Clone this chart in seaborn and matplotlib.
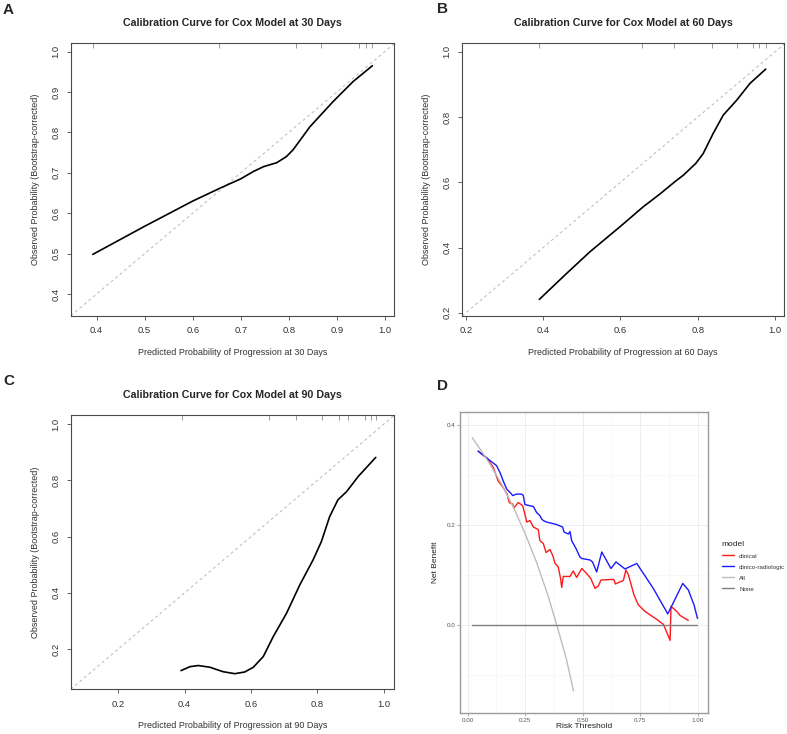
import numpy as np
import pandas as pd
import matplotlib
matplotlib.use("Agg")
import matplotlib.pyplot as plt
import seaborn as sns

# ---- calibration curves ----
cal30_x = [0.392, 0.499, 0.600, 0.657, 0.700, 0.726, 0.747, 0.775, 0.795, 0.809, 0.844, 0.892, 0.934, 0.974]
cal30_y = [0.498, 0.567, 0.630, 0.662, 0.685, 0.703, 0.715, 0.725, 0.740, 0.757, 0.814, 0.876, 0.926, 0.965]
rug30 = [0.392, 0.655, 0.815, 0.866, 0.946, 0.960, 0.974]

cal60_x = [0.390, 0.461, 0.521, 0.599, 0.659, 0.702, 0.741, 0.763, 0.795, 0.814, 0.840, 0.866, 0.901, 0.935, 0.976]
cal60_y = [0.241, 0.321, 0.387, 0.464, 0.525, 0.564, 0.602, 0.622, 0.658, 0.688, 0.750, 0.806, 0.852, 0.903, 0.947]
rug60 = [0.390, 0.655, 0.738, 0.838, 0.901, 0.942, 0.959, 0.976]

cal90_x = [0.389, 0.416, 0.441, 0.476, 0.516, 0.551, 0.581, 0.607, 0.637, 0.667, 0.707, 0.747, 0.787,
           0.812, 0.837, 0.862, 0.888, 0.923, 0.976]
cal90_y = [0.123, 0.137, 0.141, 0.135, 0.119, 0.112, 0.118, 0.135, 0.173, 0.244, 0.327, 0.428, 0.517,
           0.582, 0.671, 0.731, 0.760, 0.814, 0.882]
rug90 = [0.391, 0.655, 0.737, 0.814, 0.866, 0.893, 0.945, 0.961, 0.976]

# ---- decision curve ----
clin_t = [0.046, 0.083, 0.112, 0.133, 0.155, 0.172, 0.181, 0.196, 0.201, 0.220, 0.239, 0.249, 0.257, 0.271,
          0.286, 0.307, 0.314, 0.329, 0.341, 0.358, 0.370, 0.380, 0.394, 0.404, 0.409, 0.416, 0.445, 0.459,
          0.474, 0.496, 0.517, 0.535, 0.554, 0.568, 0.580, 0.636, 0.642, 0.677, 0.688, 0.699, 0.723, 0.742,
          0.771, 0.822, 0.851, 0.880, 0.884, 0.909, 0.923, 0.959]
clin_nb = [0.348, 0.335, 0.315, 0.288, 0.275, 0.262, 0.245, 0.242, 0.234, 0.245, 0.239, 0.222, 0.206, 0.209,
           0.196, 0.191, 0.169, 0.163, 0.145, 0.151, 0.139, 0.123, 0.116, 0.093, 0.075, 0.097, 0.097, 0.108,
           0.095, 0.113, 0.103, 0.093, 0.073, 0.078, 0.090, 0.091, 0.082, 0.089, 0.110, 0.100, 0.060, 0.040,
           0.027, 0.011, 0.001, -0.031, 0.037, 0.027, 0.019, 0.009]
crad_t = [0.046, 0.075, 0.126, 0.141, 0.155, 0.170, 0.187, 0.196, 0.213, 0.235, 0.242, 0.249, 0.286, 0.300,
          0.314, 0.322, 0.329, 0.343, 0.387, 0.413, 0.419, 0.438, 0.445, 0.452, 0.471, 0.488, 0.496, 0.532,
          0.543, 0.561, 0.583, 0.623, 0.645, 0.684, 0.735, 0.764, 0.807, 0.870, 0.935, 0.959, 0.984, 0.999]
crad_nb = [0.348, 0.337, 0.319, 0.305, 0.288, 0.272, 0.264, 0.259, 0.262, 0.262, 0.259, 0.241, 0.237, 0.225,
           0.219, 0.212, 0.209, 0.206, 0.201, 0.196, 0.186, 0.182, 0.187, 0.169, 0.153, 0.136, 0.133, 0.130,
           0.126, 0.106, 0.146, 0.113, 0.126, 0.112, 0.123, 0.103, 0.073, 0.022, 0.083, 0.070, 0.040, 0.013]
all_t = [0.02, 0.05, 0.10, 0.15, 0.20, 0.25, 0.30, 0.35, 0.40, 0.43, 0.46]
all_nb = [0.375, 0.355, 0.320, 0.280, 0.235, 0.183, 0.125, 0.058, -0.020, -0.070, -0.132]
none_t = [0.017, 0.996]
none_nb = [0.0, 0.0]

sns.set_theme(style="white")
plt.rcParams["font.family"] = ["Liberation Sans", "DejaVu Sans"]

W, H = 787, 734
fig = plt.figure(figsize=(W / 100, H / 100), dpi=100)


def box(l, t, r, b):
    return [l / W, 1 - b / H, (r - l) / W, (b - t) / H]


def calib(rect, x, y, rug, xlim, ylim, xticks, yticks, days):
    ax = fig.add_axes(rect)
    ax.axline((0, 0), (1, 1), color="#b8b8b8", lw=0.7, ls=(0, (3, 3)))
    sns.lineplot(x=x, y=y, ax=ax, color="black", lw=1.2, estimator=None, sort=False)
    ax.vlines(rug, 0.98, 1.0, transform=ax.get_xaxis_transform(), color="#999999", lw=0.7)
    ax.set_xlim(xlim)
    ax.set_ylim(ylim)
    ax.set_xticks(xticks)
    ax.set_yticks(yticks)
    ax.set_xticklabels([f"{v:.1f}" for v in xticks])
    ax.set_yticklabels([f"{v:.1f}" for v in yticks])
    for s in ax.spines.values():
        s.set_color("#4a4a4a")
        s.set_linewidth(0.8)
    ax.tick_params(axis="both", direction="out", length=3, width=0.6, color="#4a4a4a",
                   labelsize=6.8, labelcolor="#333333", pad=4.5, bottom=True, left=True)
    ax.tick_params(axis="y", labelrotation=90)
    for lab in ax.get_yticklabels():
        lab.set_va("center")
    ax.set_title(f"Calibration Curve for Cox Model at {days} Days", fontsize=7.7,
                 fontweight="bold", pad=12)
    ax.set_xlabel(f"Predicted Probability of Progression at {days} Days", fontsize=6.5,
                  color="#333333", labelpad=9)
    ax.set_ylabel("Observed Probability (Bootstrap-corrected)", fontsize=6.5,
                  color="#333333", labelpad=8)
    ax.grid(False)
    return ax


calib(box(70.7, 42.7, 394, 316), cal30_x, cal30_y, rug30, (0.346, 1.019), (0.3455, 1.022),
      [0.4, 0.5, 0.6, 0.7, 0.8, 0.9, 1.0], [0.4, 0.5, 0.6, 0.7, 0.8, 0.9, 1.0], 30)
calib(box(461.7, 42.7, 784.3, 316), cal60_x, cal60_y, rug60, (0.189, 1.024), (0.19, 1.028),
      [0.2, 0.4, 0.6, 0.8, 1.0], [0.2, 0.4, 0.6, 0.8, 1.0], 60)
calib(box(70.7, 415, 394, 689.3), cal90_x, cal90_y, rug90, (0.0565, 1.031), (0.0564, 1.033),
      [0.2, 0.4, 0.6, 0.8, 1.0], [0.2, 0.4, 0.6, 0.8, 1.0], 90)

# ---- panel D ----
dca = pd.concat([
    pd.DataFrame({"threshold": clin_t, "net_benefit": clin_nb, "model": "clinical"}),
    pd.DataFrame({"threshold": crad_t, "net_benefit": crad_nb, "model": "clinico-radiologic"}),
    pd.DataFrame({"threshold": all_t, "net_benefit": all_nb, "model": "All"}),
    pd.DataFrame({"threshold": none_t, "net_benefit": none_nb, "model": "None"}),
])
pal = {"clinical": "#ff1a1a", "clinico-radiologic": "#1a1aff", "All": "#bdbdbd", "None": "#7f7f7f"}

axd = fig.add_axes(box(460, 411.7, 708.3, 713))
sns.lineplot(data=dca, x="threshold", y="net_benefit", hue="model", palette=pal,
             estimator=None, sort=False, lw=1.0, ax=axd)
axd.set_xlim(-0.033, 1.046)
axd.set_ylim(-0.1765, 0.427)
axd.set_xticks([0, 0.25, 0.5, 0.75, 1.0])
axd.set_xticklabels(["0.00", "0.25", "0.50", "0.75", "1.00"])
axd.set_yticks([0.0, 0.2, 0.4])
axd.set_yticklabels(["0.0", "0.2", "0.4"])
axd.set_xticks([0.125, 0.375, 0.625, 0.875], minor=True)
axd.set_yticks([-0.1, 0.1, 0.3], minor=True)
axd.grid(True, which="major", color="#ebebeb", lw=0.6)
axd.grid(True, which="minor", color="#f3f3f3", lw=0.4)
for s in axd.spines.values():
    s.set_color("#9a9a9a")
    s.set_linewidth(1.0)
axd.tick_params(axis="both", which="major", direction="out", length=2, width=0.5, color="#888888",
                labelsize=4.5, labelcolor="#555555", pad=1.5, bottom=True, left=True)
axd.tick_params(axis="both", which="minor", length=0)
axd.set_xlabel("Risk Threshold", fontsize=6, color="#222222", labelpad=0)
axd.set_ylabel("Net Benefit", fontsize=6, color="#222222", labelpad=5)
leg = axd.legend(title="model", loc="upper left", bbox_to_anchor=(716 / W, 1 - 535 / H),
                 bbox_transform=fig.transFigure, frameon=False, fontsize=4.5,
                 title_fontsize=6, handlelength=2.0, labelspacing=0.9, handletextpad=0.8,
                 alignment="left")
for t in leg.get_texts():
    t.set_color("#333333")

# panel letters
for lab, x, y in [("A", 3, 3), ("B", 437, 2), ("C", 3, 374), ("D", 437, 379)]:
    fig.text(x / W, 1 - y / H, lab, fontsize=11, fontweight="bold", va="top", ha="left")

fig.savefig("out.png", dpi=100)
